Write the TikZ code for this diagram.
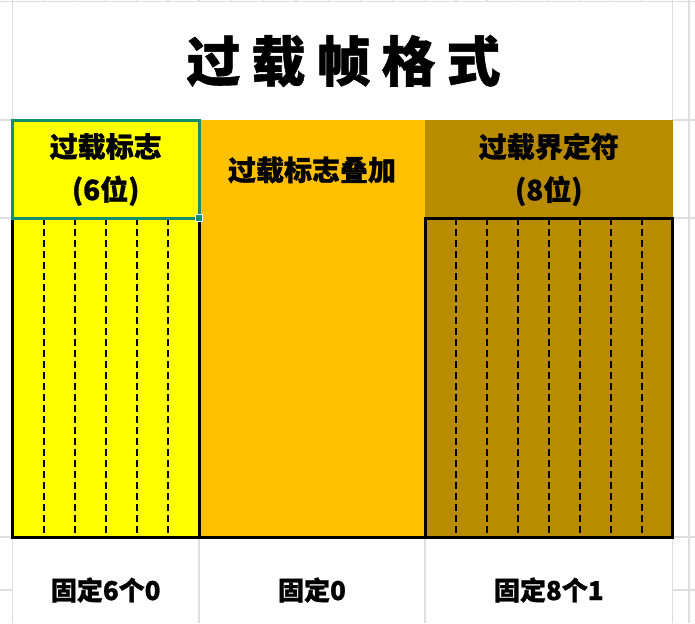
\documentclass[tikz,border=0pt]{standalone}
\usepackage{fontspec}
\newfontfamily\cjk{Noto Sans CJK SC}[BoldFeatures={FakeBold=1}]
\usetikzlibrary{positioning}
\definecolor{flagyellow}{RGB}{255,255,0}
\definecolor{overlayorange}{RGB}{255,192,0}
\definecolor{delimgold}{RGB}{185,140,0}
\definecolor{selectgreen}{RGB}{19,144,106}
\definecolor{gridgray}{RGB}{222,222,222}

\begin{document}
\begin{tikzpicture}[x=1pt,y=-1pt,line join=miter,
  gridline/.style={gridgray,line width=1.2pt},
  bitline/.style={black,line width=2pt,dash pattern=on 7pt off 4pt},
  cellborder/.style={black,line width=3pt},
  headtext/.style={align=center,font=\cjk\bfseries\fontsize{28}{43}\selectfont},
  foottext/.style={font=\cjk\bfseries\fontsize{26}{30}\selectfont}]
 \useasboundingbox (0,0) rectangle (695,623);
 \fill[white] (0,0) rectangle (695,623);
 \draw[gridline] (0,1.5)--(695,1.5);
 \foreach \gx in {12.5,672.7,689} \draw[gridline] (\gx,0)--(\gx,623);
 \foreach \gy in {120,218,537,590} {
  \draw[gridline] (0,\gy)--(12.5,\gy);
  \draw[gridline] (672.7,\gy)--(695,\gy);
 }
 \foreach \gx in {199,425} \draw[gridline] (\gx,537)--(\gx,623);
 \foreach \k in {1,...,5} \draw[gridline] (12.5+31.08*\k,0)--(12.5+31.08*\k,1.5);
 \foreach \k in {0,...,7} \draw[gridline] (199+32.3*\k,0)--(199+32.3*\k,1.5);
 \foreach \k in {1,...,7} \draw[gridline] (425+30.96*\k,0)--(425+30.96*\k,1.5);

 \fill[flagyellow] (12.5,120) rectangle (199,537);
 \fill[overlayorange] (199,120) rectangle (425,537);
 \fill[delimgold] (425,120) rectangle (672.7,537);
 \foreach \k in {1,...,5} \draw[bitline] (12.5+31.08*\k,218)--(12.5+31.08*\k,537);
 \foreach \k in {1,...,7} \draw[bitline] (425+30.96*\k,218)--(425+30.96*\k,537);
 \draw[cellborder] (12.5,218) rectangle (199,537);
 \draw[cellborder] (199,537)--(425,537);
 \draw[cellborder] (425,218) rectangle (672.7,537);
 \draw[selectgreen,line width=3pt] (12.5,120) rectangle (199,218);
 \filldraw[fill=selectgreen,draw=white,line width=0.8pt] (195.5,214.5) rectangle (202.5,221.5);

 \node[font=\cjk\bfseries\fontsize{54}{60}\selectfont] (title) at (343.5,61)
  {过\hspace{11pt}载\hspace{11pt}帧\hspace{11pt}格\hspace{11pt}式};
 \node[headtext] (flag) at (105.7,169.5) {过载标志\\(6位)};
 \node[headtext] (overlay) at (312,170) {过载标志叠加};
 \node[headtext] (delim) at (548.8,169.5) {过载界定符\\(8位)};
 \node[foottext] (flagval) at (105.7,590) {固定6个0};
 \node[foottext] (overlayval) at (312,590) {固定0};
 \node[foottext] (delimval) at (548.8,590) {固定8个1};
\end{tikzpicture}
\end{document}
